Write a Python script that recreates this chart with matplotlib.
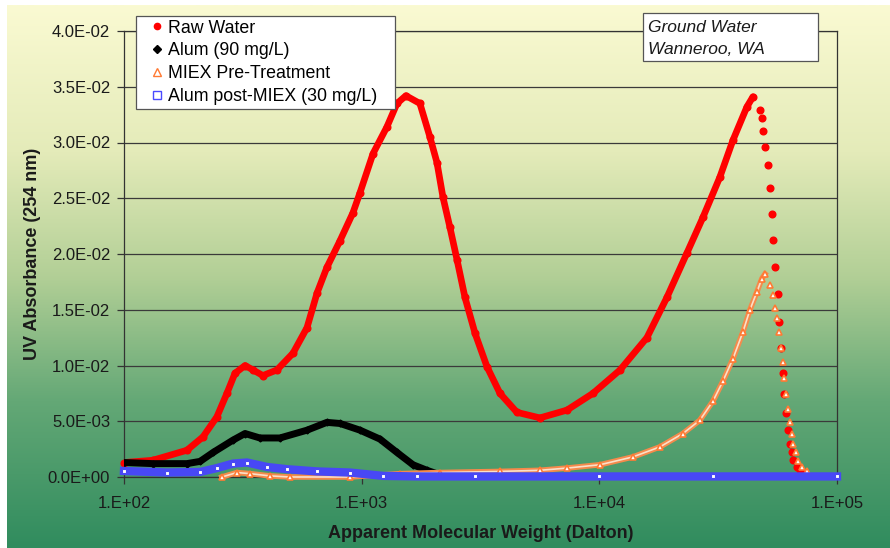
import numpy as np
import matplotlib
matplotlib.use("Agg")
import matplotlib.pyplot as plt
from matplotlib.colors import LinearSegmentedColormap
from matplotlib.lines import Line2D
from matplotlib.patches import Rectangle
from matplotlib.ticker import FixedLocator, FixedFormatter, NullLocator

plt.rcParams['font.family'] = ['Liberation Sans', 'DejaVu Sans']

# Raw water (red dots)
mw_raw = np.array([100, 132, 184, 215, 246, 271, 293, 323, 349, 384, 440, 514, 589, 649,
                   714, 811, 919, 984, 1116, 1277, 1408, 1535, 1758, 1937, 2074, 2198,
                   2351, 2518, 2721, 2998, 3366, 3819, 4500, 5623, 7310, 9397, 12220,
                   15860, 19240, 23380, 27300, 32150, 36480, 41780, 44280,
                   47400, 48310, 48760, 49750, 51200, 52200, 53200, 53700, 54800, 56400,
                   57000, 58100, 59200, 59800, 61000, 62150, 63400, 64600, 65200, 67800,
                   69900, 73300])
raw_water = np.array([0.0013, 0.0015, 0.0024, 0.0036, 0.0054, 0.0075, 0.0093, 0.0100, 0.0096,
                      0.0091, 0.0096, 0.0111, 0.0134, 0.0165, 0.0188, 0.0212, 0.0237, 0.0255,
                      0.0290, 0.0314, 0.0335, 0.0342, 0.0335, 0.0305, 0.0282, 0.0251, 0.0224,
                      0.0195, 0.0161, 0.0129, 0.0099, 0.0075, 0.0058, 0.0053, 0.0060, 0.0075,
                      0.0096, 0.0125, 0.0161, 0.0201, 0.0233, 0.0269, 0.0302, 0.0332, 0.0341,
                      0.0329, 0.0322, 0.0310, 0.0296, 0.0280, 0.0259, 0.0236, 0.0213, 0.0188,
                      0.0164, 0.0139, 0.0116, 0.0093, 0.0074, 0.0057, 0.0042, 0.0030, 0.0022,
                      0.0015, 0.0009, 0.0006, 0.0004])

# Alum 90 mg/L (black diamonds)
mw_alum = np.array([100, 132, 184, 209, 237, 287, 323, 373, 453, 589, 714, 811, 984, 1194,
                    1408, 1644, 1883, 2135])
alum = np.array([0.0013, 0.0012, 0.0012, 0.0014, 0.0022, 0.0033, 0.0039, 0.0035, 0.0035,
                 0.0042, 0.0049, 0.0048, 0.0042, 0.0034, 0.0022, 0.0011, 0.0006, 0.0002])

# MIEX pre-treatment (orange open triangles)
mw_miex = np.array([258, 299, 339, 411, 499, 893, 1450, 2135, 3819, 5623, 7310, 10070, 13840,
                    17990, 22480, 26500, 30060, 33120, 36480, 40180, 43030, 46030, 48310,
                    49750, 52200, 53700, 54800, 55850, 57000, 58100, 59200, 59800, 61000,
                    62150, 63400, 64600, 65200, 67150, 68500, 71150, 74700])
miex = np.array([0.0, 0.0004, 0.0003, 0.0001, 0.0, 0.0, 0.0003, 0.0004, 0.0005, 0.0006,
                 0.0008, 0.0011, 0.0018, 0.0027, 0.0039, 0.0051, 0.0068, 0.0086, 0.0106,
                 0.0130, 0.0150, 0.0166, 0.0178, 0.0182, 0.0172, 0.0163, 0.0152, 0.0143,
                 0.0130, 0.0116, 0.0103, 0.0089, 0.0074, 0.0061, 0.0049, 0.0039, 0.0030,
                 0.0022, 0.0014, 0.0009, 0.0005])

# Alum post-MIEX 30 mg/L (blue open squares)
mw_post = np.array([100, 152, 209, 246, 287, 329, 400, 485, 649, 893, 1230, 1709, 3000,
                    10000, 30000, 100000])
alum_post = np.array([0.00054, 0.0004, 0.00045, 0.0008, 0.0012, 0.0013, 0.0009, 0.0007,
                      0.0005, 0.0004, 0.0001, 0.00005, 0.00005, 0.00005, 0.00005, 0.00005])

x_ticks = [1e2, 1e3, 1e4, 1e5]
x_labels = ['1.E+02', '1.E+03', '1.E+04', '1.E+05']
y_ticks = np.arange(0, 0.0401, 0.005)

W, H = 890, 548
fig = plt.figure(figsize=(W / 100, H / 100), dpi=100, facecolor='white')

# gradient background
bg = fig.add_axes([7 / W, 0, 1 - 7 / W, 1 - 5 / H], zorder=-5)
bg_cmap = LinearSegmentedColormap.from_list('bg', [
    (0.0, '#fafad2'), (0.27, '#e4ebb9'), (0.5, '#b2cf96'),
    (0.73, '#64a876'), (1.0, '#308c5e')])
bg.imshow(np.linspace(0, 1, 256).reshape(-1, 1), aspect='auto', cmap=bg_cmap,
          extent=[0, 1, 0, 1], origin='upper')
bg.axis('off')

ax = fig.add_axes([124 / W, 1 - 477 / H, (837 - 124) / W, (477 - 31) / H])
ax.set_facecolor('none')
ax.set_xscale('log')
ax.set_xlim(1e2, 1e5)
ax.set_ylim(0, 0.04)

for y in y_ticks:
    ax.axhline(y, color='#3a3a3a', lw=0.9, zorder=1)

split = 45000
d = mw_raw <= split
ax.plot(mw_raw[d], raw_water[d], color='#ff0000', lw=4.8, solid_capstyle='round', zorder=3)
ax.plot(mw_raw, raw_water, 'o', color='#ff0000', ms=4.8, mec='#ff0000', zorder=3,
        clip_on=False)

ax.plot(mw_alum, alum, color='black', lw=5, solid_capstyle='round', zorder=4)
ax.plot(mw_alum, alum, 'D', color='black', ms=3.5, zorder=4)

dm = mw_miex <= 50000
ax.plot(mw_miex[dm], miex[dm], color='#f58a4c', lw=4, zorder=5, clip_on=False)
ax.plot(mw_miex[dm], miex[dm], color='#fbe0c8', lw=1.2, zorder=5, clip_on=False)
ax.plot(mw_miex, miex, '^', ms=5, mfc='white', mec='#ff7a33', mew=1.2, zorder=5,
        clip_on=False)

ax.plot(mw_post, alum_post, color='#4848f5', lw=6, zorder=6, clip_on=False)
ax.plot(mw_post, alum_post, 's', ms=3.2, mfc='white', mec='#4848f5', mew=0.8, zorder=6,
        clip_on=False)

ax.xaxis.set_major_locator(FixedLocator(x_ticks))
ax.xaxis.set_major_formatter(FixedFormatter(x_labels))
ax.xaxis.set_minor_locator(NullLocator())
ax.set_yticks(y_ticks)
ax.set_yticklabels([f'{v:.1E}' for v in y_ticks])
ax.tick_params(axis='both', direction='out', length=5, width=0.9, color='#333333',
               labelsize=12, labelcolor='#1a1a1a')
ax.tick_params(axis='x', pad=9)
ax.tick_params(axis='y', pad=5)

for s in ax.spines.values():
    s.set_color('#333333')
    s.set_linewidth(0.9)

ax.set_xlabel('Apparent Molecular Weight (Dalton)', fontsize=13, fontweight='bold',
              color='#1a1a1a', labelpad=10)
ax.set_ylabel('UV Absorbance (254 nm)', fontsize=13, fontweight='bold',
              color='#1a1a1a', labelpad=5)

handles = [
    Line2D([], [], ls='none', marker='o', color='#ff0000', ms=4.5),
    Line2D([], [], ls='none', marker='D', color='black', ms=4.5),
    Line2D([], [], ls='none', marker='^', mfc='white', mec='#ff7a33', ms=6),
    Line2D([], [], ls='none', marker='s', mfc='white', mec='#4a4aff', ms=6),
]
labels = ['Raw Water', 'Alum (90 mg/L)', 'MIEX Pre-Treatment', 'Alum post-MIEX (30 mg/L)']
leg = ax.legend(handles, labels, loc='upper left',
                bbox_to_anchor=(136 / W, 1 - 108 / H, 259 / W, 92 / H), mode='expand',
                bbox_transform=fig.transFigure, fancybox=False, framealpha=1,
                edgecolor='#555555', borderaxespad=0, handlelength=2.0, handletextpad=-0.4,
                borderpad=0.2, labelspacing=0.33, fontsize=12.8)
leg.get_frame().set_linewidth(0.9)
leg.set_zorder(10)

fig.add_artist(Rectangle((643 / W, 1 - 61 / H), 175 / W, 48 / H, transform=fig.transFigure,
                         facecolor='white', edgecolor='#555555', lw=0.9, zorder=10))
fig.text(648 / W, 1 - 32 / H, 'Ground Water', fontsize=12.5, style='italic',
         color='#1a1a1a', zorder=11)
fig.text(648 / W, 1 - 54 / H, 'Wanneroo, WA', fontsize=12.5, style='italic',
         color='#1a1a1a', zorder=11)

fig.savefig('out.png', dpi=100, facecolor=fig.get_facecolor())
